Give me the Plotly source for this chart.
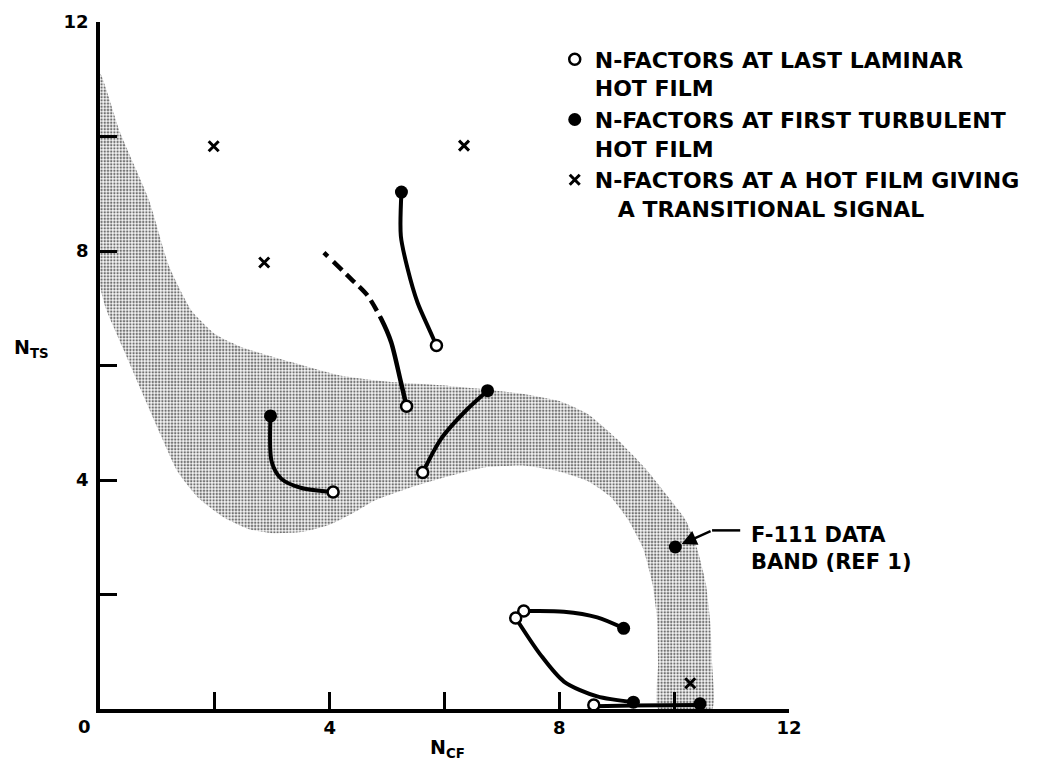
import plotly.graph_objects as go

# ---------------- data ----------------
# F-111 data band: outer edge (top-left -> bottom-right), inner edge (bottom-right -> top-left)
band_outer_x = [0.0, 0.35, 0.85, 1.2, 1.6, 2.0, 2.47, 3.33, 4.2, 5.07, 6.0, 6.63, 7.4, 8.0, 8.5, 9.0, 9.5, 9.9, 10.2, 10.4, 10.55, 10.63, 10.66, 10.66]
band_outer_y = [11.1, 10.07, 8.9, 7.74, 6.95, 6.55, 6.32, 6.06, 5.82, 5.71, 5.65, 5.59, 5.5, 5.38, 5.15, 4.72, 4.2, 3.7, 3.3, 2.8, 2.2, 1.5, 0.8, 0.0]
band_inner_x = [9.72, 9.72, 9.7, 9.62, 9.46, 9.2, 8.9, 8.5, 8.0, 7.4, 6.7, 6.0, 5.5, 4.8, 4.4, 4.0, 3.5, 3.0, 2.6, 2.15, 1.72, 1.35, 1.05, 0.78, 0.4, 0.1, 0.0, 0.0]
band_inner_y = [0.0, 0.8, 1.6, 2.2, 2.8, 3.3, 3.7, 3.98, 4.15, 4.25, 4.22, 4.05, 3.9, 3.65, 3.42, 3.22, 3.09, 3.07, 3.14, 3.35, 3.68, 4.15, 4.8, 5.42, 6.3, 7.0, 7.4, 11.1]

# connecting curves
curve_a_x = [2.97, 2.99, 3.16, 3.51, 4.06]
curve_a_y = [5.12, 4.32, 4.02, 3.86, 3.79]
curve_b_x = [5.62, 5.94, 6.40, 6.75]
curve_b_y = [4.13, 4.72, 5.24, 5.56]
curve_c_x = [5.25, 5.24, 5.36, 5.53, 5.73, 5.86]
curve_c_y = [9.03, 8.26, 7.68, 7.10, 6.64, 6.35]
curve_d_x = [3.90, 4.375, 4.66, 4.90, 5.07, 5.24, 5.34]   # dashed at first, then solid
curve_d_y = [7.97, 7.51, 7.22, 6.81, 6.41, 5.71, 5.29]
curve_e_x = [7.38, 8.08, 8.66, 9.12]
curve_e_y = [1.71, 1.70, 1.60, 1.41]
curve_f_x = [7.24, 7.67, 8.08, 8.66, 9.29]
curve_f_y = [1.59, 0.95, 0.48, 0.22, 0.12]
curve_g_x = [8.60, 9.29, 10.45]
curve_g_y = [0.05, 0.06, 0.07]

# N-factor points
laminar_x = [4.06, 5.62, 5.86, 5.34, 7.38, 7.24, 8.60]
laminar_y = [3.79, 4.13, 6.35, 5.29, 1.71, 1.59, 0.07]
turbulent_x = [2.97, 6.75, 5.25, 9.12, 9.29, 10.45, 10.02]
turbulent_y = [5.12, 5.56, 9.03, 1.41, 0.12, 0.09, 2.83]
transitional_x = [1.98, 2.86, 6.34, 10.28]
transitional_y = [9.83, 7.80, 9.84, 0.45]

label_ticks = [4, 8, 12]
label_text = ["4", "8", "12"]
minor_step = 2

legend_names = [
    "N-FACTORS AT LAST LAMINAR<br>HOT FILM",
    "N-FACTORS AT FIRST TURBULENT<br>HOT FILM",
    "N-FACTORS AT A HOT FILM GIVING<br>&nbsp;&nbsp;&nbsp;A TRANSITIONAL SIGNAL",
]

FONT = "DejaVu Sans"

fig = go.Figure()

# stippled band
fig.add_trace(go.Scatter(
    x=band_outer_x + band_inner_x, y=band_outer_y + band_inner_y,
    mode="lines", fill="toself",
    line=dict(width=0, color="rgba(0,0,0,0)", shape="spline", smoothing=0.5),
    fillcolor="rgba(0,0,0,0)",
    fillpattern=dict(shape=".", size=3.2, solidity=0.42, fgcolor="#707070", bgcolor="#f6f6f6"),
    showlegend=False, hoverinfo="skip"))

solid = dict(color="black", width=4, shape="spline", smoothing=0.8)
for cx, cy in [(curve_a_x, curve_a_y), (curve_b_x, curve_b_y), (curve_c_x, curve_c_y),
               (curve_e_x, curve_e_y), (curve_f_x, curve_f_y), (curve_g_x, curve_g_y)]:
    fig.add_trace(go.Scatter(x=cx, y=cy, mode="lines", line=solid, showlegend=False,
                             hoverinfo="skip", cliponaxis=False))
# curve with dashed beginning: dash pattern then a long solid stroke
fig.add_trace(go.Scatter(
    x=curve_d_x, y=curve_d_y, mode="lines", showlegend=False, hoverinfo="skip",
    line=dict(color="black", width=4.5, shape="spline", smoothing=0.8,
              dash="5px,8px,12px,6px,12px,6px,12px,6px,12px,6px,2000px,1px")))

fig.add_trace(go.Scatter(
    x=laminar_x, y=laminar_y, mode="markers", name=legend_names[0], cliponaxis=False,
    marker=dict(symbol="circle", size=11, color="white", line=dict(color="black", width=2.5))))
fig.add_trace(go.Scatter(
    x=turbulent_x, y=turbulent_y, mode="markers", name=legend_names[1], cliponaxis=False,
    marker=dict(symbol="circle", size=13, color="black", line=dict(color="black", width=0))))
fig.add_trace(go.Scatter(
    x=transitional_x, y=transitional_y, mode="markers", name=legend_names[2], cliponaxis=False,
    marker=dict(symbol="x-thin", size=10, color="black", line=dict(color="black", width=3))))

axis_common = dict(
    range=[0, 12], tickmode="array", tickvals=label_ticks, ticktext=label_text,
    ticks="inside", ticklen=17, tickwidth=2.5, tickcolor="black",
    minor=dict(ticks="inside", ticklen=17, tickwidth=2.5, tickcolor="black",
               tick0=0, dtick=minor_step, showgrid=False),
    showline=True, linewidth=3.5, linecolor="black", showgrid=False, zeroline=False,
    automargin=False,
    tickfont=dict(family=FONT, size=18, color="black", weight="bold"),
)
fig.update_xaxes(**axis_common, ticklabelstandoff=0)
fig.update_yaxes(**axis_common, ticklabelstandoff=4)

# F-111 label with bent leader
fig.add_shape(type="line", x0=10.66, y0=3.12, x1=11.15, y1=3.12, line=dict(color="black", width=2.5))
fig.add_annotation(x=10.13, y=2.88, ax=10.66, ay=3.12, axref="x", ayref="y", text="",
                   showarrow=True, arrowhead=2, arrowsize=1.2, arrowwidth=2.5, arrowcolor="black")
fig.add_annotation(x=11.3, y=2.80, xref="x", yref="y", xanchor="left", yanchor="middle",
                   text="F-111 DATA<br>BAND (REF 1)", showarrow=False, align="left",
                   font=dict(family=FONT, size=21, color="black", weight="bold"))

# axis titles and corner zero
fig.add_annotation(x=-0.128, y=6.3, xref="paper", yref="y", xanchor="left", yanchor="middle",
                   text="N<sub>TS</sub>", showarrow=False,
                   font=dict(family=FONT, size=19, color="black", weight="bold"))
fig.add_annotation(x=5.72, y=-0.058, xref="x", yref="paper", xanchor="left", yanchor="middle",
                   text="N<sub>CF</sub>", showarrow=False,
                   font=dict(family=FONT, size=19, color="black", weight="bold"))
fig.add_annotation(x=0, y=0, xref="paper", yref="paper", xshift=-16, yshift=-17,
                   xanchor="center", yanchor="middle", text="0", showarrow=False,
                   font=dict(family=FONT, size=18, color="black", weight="bold"))

fig.update_layout(
    template="none",
    width=1031, height=762, autosize=False,
    margin=dict(l=92, r=250, t=14, b=61, autoexpand=False),
    paper_bgcolor="white", plot_bgcolor="white",
    legend=dict(x=0.66, y=0.976, xanchor="left", yanchor="top", valign="top",
                bgcolor="rgba(0,0,0,0)", itemwidth=30, tracegroupgap=0, borderwidth=0,
                font=dict(family=FONT, size=22, color="black", weight="bold")),
)

fig.write_html("out.html")
